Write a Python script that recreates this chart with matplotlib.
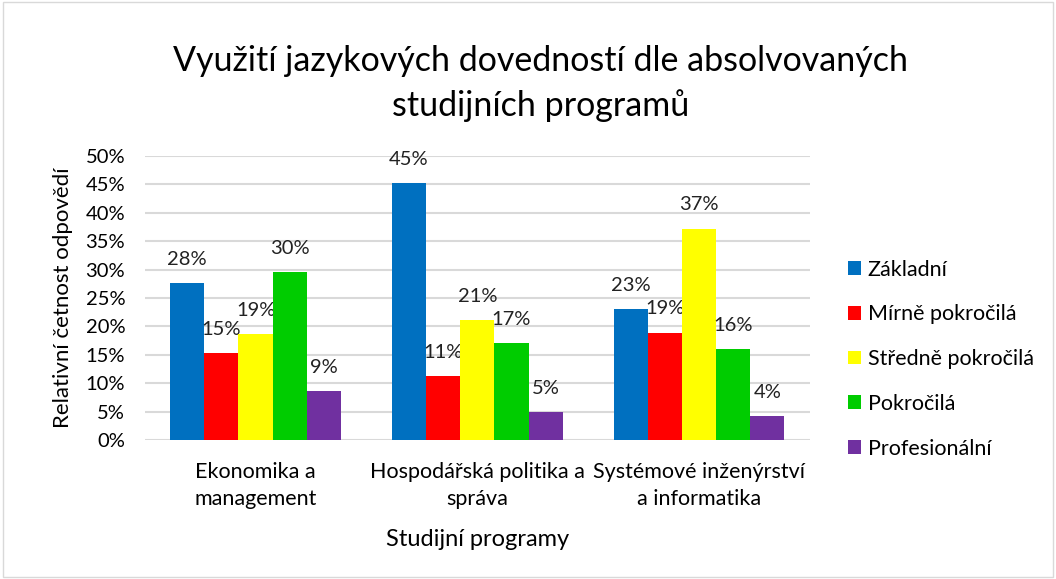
import matplotlib.pyplot as plt
import numpy as np
from matplotlib.patches import Rectangle

plt.rcParams['font.family'] = ['Lato', 'DejaVu Sans']

programs = ['Ekonomika a\nmanagement', 'Hospodářská politika a\nspráva', 'Systémové inženýrství\na informatika']
levels = ['Základní', 'Mírně pokročilá', 'Středně pokročilá', 'Pokročilá', 'Profesionální']
zakladni = [27.6, 45.2, 23.1]
mirne = [15.3, 11.3, 18.9]
stredne = [18.6, 21.1, 37.2]
pokrocila = [29.5, 17.1, 16.0]
profesionalni = [8.6, 4.9, 4.2]
colors = ['#0070C0', '#FF0000', '#FFFF00', '#00CC00', '#7030A0']

series = [zakladni, mirne, stredne, pokrocila, profesionalni]

fig = plt.figure(figsize=(10.56, 5.79), dpi=100)
ax = fig.add_axes([0.137, 0.240, 0.630, 0.4906])

x = np.arange(len(programs))
width = 0.154
for i, (vals, name, c) in enumerate(zip(series, levels, colors)):
    pos = x + (i - 2) * width
    ax.bar(pos, np.array(vals) / 100, width, color=c, label=name, zorder=3)
    for px, v in zip(pos, vals):
        ax.annotate(f'{v:.0f}%', xy=(px, v / 100), xytext=(0, 11), textcoords='offset points',
                    ha='center', va='bottom', fontsize=14.5, color='#222222')

ax.set_xlim(-0.5, 2.5)
ax.set_ylim(0, 0.5)
ax.set_yticks(np.arange(0, 0.51, 0.05))
ax.set_yticklabels([f'{int(round(t * 100))}%' for t in np.arange(0, 0.51, 0.05)], fontsize=14.5)
ax.set_xticks(x)
ax.set_xticklabels(programs, fontsize=15.5, linespacing=1.45)
ax.tick_params(axis='y', length=0, pad=14)
ax.tick_params(axis='x', length=0, pad=16)
ax.yaxis.grid(True, color='#D9D9D9', linewidth=1.5, zorder=0)
for s in ax.spines.values():
    s.set_visible(False)

ax.set_ylabel('Relativní četnost odpovědí', fontsize=16, labelpad=9)
ax.set_xlabel('Studijní programy', fontsize=17, labelpad=14)

fig.suptitle('Využití jazykových dovedností dle absolvovaných\nstudijních programů',
             x=0.512, y=0.922, fontsize=24.5, linespacing=1.45)

ax.legend(loc='center left', bbox_to_anchor=(1.035, 0.285), frameon=False, fontsize=15.5,
          borderpad=0.2, handlelength=0.6, handleheight=0.6, handletextpad=0.3, labelspacing=1.15)

fig.patches.append(Rectangle((0.003, 0.003), 0.994, 0.994, transform=fig.transFigure,
                             fill=False, edgecolor='#D9D9D9', linewidth=1))

fig.savefig('out.png', dpi=100)
